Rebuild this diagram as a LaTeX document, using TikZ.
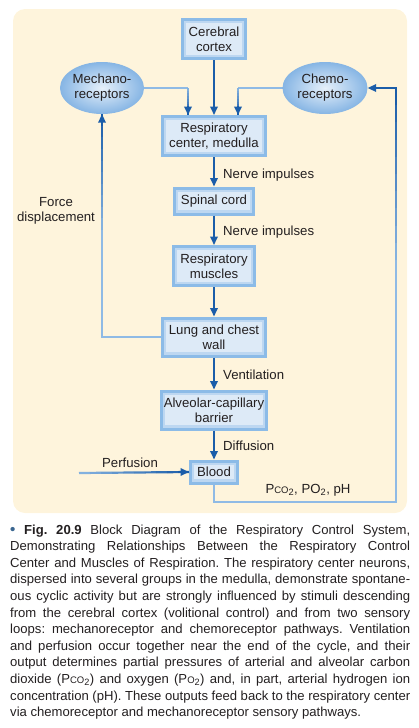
\documentclass[tikz,border=0pt]{standalone}
\usepackage{fontspec}
\setmainfont{Liberation Sans}
\usetikzlibrary{arrows.meta,shapes.geometric,calc}
\definecolor{bgcream}{HTML}{FEF4DC}
\definecolor{boxfill}{HTML}{DDEAF7}
\definecolor{boxedge}{HTML}{8CBBE7}
\definecolor{boxinner}{HTML}{BDD7F1}
\definecolor{lineLight}{HTML}{8FBAE5}
\definecolor{lineDark}{HTML}{1B5DA9}
\definecolor{txt}{HTML}{231F20}
\definecolor{bulletc}{HTML}{3A6690}
\definecolor{ellin}{HTML}{E6F0FA}
\definecolor{ellout}{HTML}{86B5E4}
\newcommand\smcap[1]{{\fontsize{9.5}{10}\selectfont #1}}
\newcommand\gradseg[2]{%
  \foreach \k [evaluate=\k as \ga using (\k-1)/10, evaluate=\k as \gb using \k/10, evaluate=\k as \gc using \k*10] in {1,...,10}
    {\draw[line width=2.2pt, color=lineDark!\gc!lineLight] ($(#1)!\ga!(#2)$) -- ($(#1)!\gb!(#2)$);}}
\begin{document}
\begin{tikzpicture}[x=1pt,y=1pt,
  every node/.style={text=txt, font=\fontsize{13.2}{15}\selectfont},
  blockbox/.style={rectangle, fill=boxfill, draw=boxedge, line width=3pt, align=center, inner sep=0pt,
    path picture={\draw[boxinner, line width=2.2pt]
      ([shift={(2.6pt,2.6pt)}]path picture bounding box.south west) rectangle
      ([shift={(-2.6pt,-2.6pt)}]path picture bounding box.north east);}},
  receptor/.style={ellipse, inner color=ellin, outer color=ellout, align=center, inner sep=0pt, minimum width=84pt, minimum height=52pt},
  darrow/.style={draw=lineDark, line width=2pt, -{Triangle[length=8.5pt,width=7.5pt]}},
  lline/.style={draw=lineLight, line width=2.2pt, line join=miter},
  lbl/.style={inner sep=0pt}]
\useasboundingbox (0,0) rectangle (419,-728);
\fill[bgcream, rounded corners=12pt] (13,-9) rectangle (407,-513);

% blocks
\node[blockbox, minimum width=63pt, minimum height=39pt] (cortex) at (214,-39) {Cerebral\\cortex};
\node[blockbox, minimum width=103pt, minimum height=39pt] (resp) at (214,-136) {Respiratory\\center, medulla};
\node[blockbox, minimum width=79pt, minimum height=26pt] (spinal) at (214,-201) {Spinal cord};
\node[blockbox, minimum width=81pt, minimum height=39pt] (muscles) at (214,-266) {Respiratory\\muscles};
\node[blockbox, minimum width=103pt, minimum height=38pt] (lung) at (214,-337) {Lung and chest\\wall};
\node[blockbox, minimum width=105pt, minimum height=38pt] (alv) at (214,-410) {Alveolar-capillary\\barrier};
\node[blockbox, minimum width=47pt, minimum height=22pt] (blood) at (214,-472) {Blood};
\node[receptor] (mech) at (102,-88) {Mechano-\\receptors};
\node[receptor, minimum width=85pt] (chemo) at (325,-88) {Chemo-\\receptors};

% labels
\node[lbl, anchor=base west] (ni1) at (223,-178) {Nerve impulses};
\node[lbl, anchor=base west] (ni2) at (223,-235) {Nerve impulses};
\node[lbl, anchor=base west] (vent) at (223,-379) {Ventilation};
\node[lbl, anchor=base west] (diff) at (223,-450) {Diffusion};
\node[lbl, anchor=base] (perf) at (130,-467) {Perfusion};
\node[lbl, anchor=base, align=center] (force) at (56,-221) {Force\\displacement};
\node[lbl, anchor=base] (gases) at (308,-493) {P\smcap{CO}\textsubscript{2}, PO\textsubscript{2}, pH};

% main chain
\draw[darrow] (cortex) -- (resp);
\draw[darrow] (resp) -- (spinal);
\draw[darrow] (spinal) -- (muscles);
\draw[darrow] (muscles) -- (lung);
\draw[darrow] (lung) -- (alv);
\draw[darrow] (alv) -- (blood);

% receptors into respiratory center
\coordinate (mc) at (188,-88);
\coordinate (cc) at (238,-88);
\draw[lline] (mech.east) -- (mc);
\gradseg{mc}{resp.north -| mc}
\draw[darrow] ($(resp.north -| mc)+(0,9)$) -- (resp.north -| mc);
\draw[lline] (chemo.west) -- (cc);
\gradseg{cc}{resp.north -| cc}
\draw[darrow] ($(resp.north -| cc)+(0,9)$) -- (resp.north -| cc);

% lung -> mechanoreceptors
\coordinate (lc) at (102,-337);
\coordinate (lm) at (102,-230);
\draw[lline] (lung.west) -- (lc) -- (lm);
\gradseg{lm}{mech.south}
\draw[darrow] ($(mech.south)+(0,-9)$) -- (mech.south);

% perfusion
\coordinate (pf) at (79,-473);
\gradseg{pf}{blood.west}
\draw[darrow] ($(blood.west)+(-9,0)$) -- (blood.west);

% blood -> chemoreceptors
\coordinate (bb) at (214,-502);
\coordinate (rb) at (396,-502);
\coordinate (rm) at (396,-260);
\coordinate (rt) at (396,-88);
\draw[lline] (blood.south) -- (bb) -- (rb) -- (rm);
\gradseg{rm}{rt}
\draw[darrow, line join=miter] ($(rt)+(0,-2)$) -- (rt) -- (chemo.east);

% caption
\node[lbl, anchor=base west, text width=400pt, align=justify,
      font=\fontsize{13.1}{16.6}\selectfont] (caption) at (10,-534)
{\frenchspacing\emergencystretch=20pt\hyphenpenalty=10000
{\color{bulletc}\fontsize{15}{16}\selectfont\textbf{•}}\ \textbf{Fig.\ 20.9} Block Diagram of the Respiratory Control System,\linebreak
Demonstrating Relationships Between the Respiratory Control\linebreak
Center and Muscles of Respiration. The respiratory center neurons,\linebreak
dispersed into several groups in the medulla, demonstrate spontane-\linebreak
ous cyclic activity but are strongly influenced by stimuli descending\linebreak
from the cerebral cortex (volitional control) and from two sensory\linebreak
loops: mechanoreceptor and chemoreceptor pathways. Ventilation\linebreak
and perfusion occur together near the end of the cycle, and their\linebreak
output determines partial pressures of arterial and alveolar carbon\linebreak
dioxide (P\smcap{CO}\textsubscript{2}) and oxygen (P\smcap{O}\textsubscript{2}) and, in part, arterial hydrogen ion\linebreak
concentration (pH). These outputs feed back to the respiratory center\linebreak
via chemoreceptor and mechanoreceptor sensory pathways.};
\end{tikzpicture}
\end{document}
